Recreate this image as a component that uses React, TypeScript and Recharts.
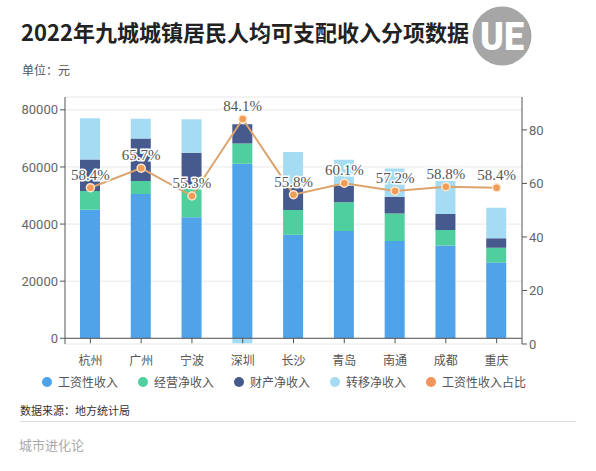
import {
  ComposedChart,
  Bar,
  Line,
  XAxis,
  YAxis,
  CartesianGrid,
  ReferenceLine,
  LabelList,
} from "recharts";

// 城市与各项收入（元）
const cities = ["杭州", "广州", "宁波", "深圳", "长沙", "青岛", "南通", "成都", "重庆"];
const wageIncome = [45000, 50500, 42400, 61150, 36300, 37600, 34100, 32500, 26500];
const businessIncome = [6600, 4550, 10100, 7100, 8600, 10000, 9600, 5400, 5200];
const propertyIncome = [11050, 14950, 12450, 6750, 8200, 5700, 5850, 5600, 3300];
const transferIncome = [14400, 6850, 11740, -1750, 12100, 9200, 9950, 11550, 10700];
// 工资性收入占比（%）
const wageShare = [58.4, 65.7, 55.3, 84.1, 55.8, 60.1, 57.2, 58.8, 58.4];

const leftTicks = [0, 20000, 40000, 60000, 80000];
const rightTicks = [0, 20, 40, 60, 80];

const LEFT_DOMAIN: [number, number] = [-2000, 84500];
const RIGHT_DOMAIN: [number, number] = [0, 92.3];

const series = [
  { key: "wage", name: "工资性收入", color: "#4ea3e9" },
  { key: "business", name: "经营净收入", color: "#50cf9e" },
  { key: "property", name: "财产净收入", color: "#465a8d" },
  { key: "transfer", name: "转移净收入", color: "#a6dcf3" },
  { key: "share", name: "工资性收入占比", color: "#f3955a" },
];

const data = cities.map((city, i) => ({
  city,
  wage: wageIncome[i],
  business: businessIncome[i],
  property: propertyIncome[i],
  transfer: transferIncome[i],
  share: wageShare[i],
}));

const CJK = '"Noto Sans CJK SC", "Noto Sans", sans-serif';

// 图表区域
const CHART_H = 380;
const MARGIN = { top: 97, right: 34, left: 0, bottom: 6 };
const X_AXIS_H = 30;
const PLOT_H = CHART_H - MARGIN.top - MARGIN.bottom - X_AXIS_H;
// 0 刻度线相对底部的偏移（左轴最小值为负）
const ZERO_OFFSET = ((0 - LEFT_DOMAIN[0]) / (LEFT_DOMAIN[1] - LEFT_DOMAIN[0])) * PLOT_H;

const CityTick = (props: any) => {
  const { x, y, payload } = props;
  return (
    <g>
      <line x1={x} x2={x} y1={y - ZERO_OFFSET} y2={y - ZERO_OFFSET + 5} stroke="#555" />
      <text x={x} y={y} dy={21} textAnchor="middle" fill="#555" fontSize={12} fontFamily={CJK}>
        {payload.value}
      </text>
    </g>
  );
};

export default function App() {
  return (
    <div
      style={{
        position: "relative",
        width: 596,
        height: 471,
        background: "#fff",
        fontFamily: CJK,
        overflow: "hidden",
      }}
    >
      <style>{`body{margin:0}`}</style>

      <div
        style={{
          position: "absolute",
          left: 21,
          top: 17,
          fontSize: 22,
          lineHeight: "28px",
          fontWeight: 700,
          color: "#222",
          whiteSpace: "nowrap",
        }}
      >
        2022年九城城镇居民人均可支配收入分项数据
      </div>

      <svg style={{ position: "absolute", left: 472, top: 6 }} width={60} height={62}>
        <circle cx={30} cy={30} r={29.5} fill="#a6a6a6" />
        <text
          x={30}
          y={44}
          textAnchor="middle"
          fill="#fff"
          fontSize={38}
          fontWeight={900}
          fontFamily="Roboto"
          textLength={44}
          lengthAdjust="spacingAndGlyphs"
        >
          UE
        </text>
      </svg>

      <div style={{ position: "absolute", left: 22, top: 62, fontSize: 12, lineHeight: "16px", color: "#555" }}>
        单位：元
      </div>

      <div style={{ position: "absolute", left: 0, top: 0 }}>
        <ComposedChart width={596} height={CHART_H} data={data} margin={MARGIN} stackOffset="sign">
          <CartesianGrid yAxisId="left" vertical={false} stroke="#e8e8e8" />
          <XAxis
            dataKey="city"
            height={X_AXIS_H}
            axisLine={false}
            tickLine={false}
            tickSize={0}
            tickMargin={0}
            interval={0}
            tick={<CityTick />}
          />
          <YAxis
            yAxisId="left"
            orientation="left"
            width={65}
            domain={LEFT_DOMAIN}
            ticks={leftTicks}
            allowDataOverflow
            axisLine={{ stroke: "#555" }}
            tickLine={{ stroke: "#555" }}
            tickSize={5}
            tick={{ fill: "#666", fontSize: 13, fontFamily: "Roboto" }}
          />
          <YAxis
            yAxisId="right"
            orientation="right"
            width={40}
            domain={RIGHT_DOMAIN}
            ticks={rightTicks}
            allowDataOverflow
            axisLine={{ stroke: "#555" }}
            tickLine={{ stroke: "#555" }}
            tickSize={5}
            tick={{ fill: "#666", fontSize: 13, fontFamily: "Roboto" }}
          />
          {series.slice(0, 4).map((s) => (
            <Bar
              key={s.key}
              dataKey={s.key}
              name={s.name}
              yAxisId="left"
              stackId="income"
              fill={s.color}
              barSize={20}
              isAnimationActive={false}
            />
          ))}
          <ReferenceLine y={0} yAxisId="left" stroke="#555" />
          <Line
            dataKey="share"
            name="工资性收入占比"
            yAxisId="right"
            stroke="#dca46c"
            strokeWidth={2}
            dot={{ r: 4, fill: "#ef9d57", stroke: "#fde6cc", strokeWidth: 1.5 }}
            isAnimationActive={false}
          >
            <LabelList
              dataKey="share"
              position="top"
              offset={8}
              formatter={(v: any) => `${v}%`}
              fill="#555"
              fontSize={15}
              fontFamily='"Liberation Serif", serif'
              stroke="#fff"
              strokeWidth={3}
              paintOrder="stroke"
            />
          </Line>
        </ComposedChart>
      </div>

      <div
        style={{
          position: "absolute",
          left: 42,
          top: 374,
          display: "flex",
          gap: 20,
          fontSize: 12,
          lineHeight: "16px",
          color: "#555",
          whiteSpace: "nowrap",
        }}
      >
        {series.map((s) => (
          <div key={s.key} style={{ display: "flex", alignItems: "center" }}>
            <span
              style={{
                display: "inline-block",
                width: 10,
                height: 10,
                borderRadius: 5,
                background: s.color,
                marginRight: 6,
              }}
            />
            {s.name}
          </div>
        ))}
      </div>

      <div style={{ position: "absolute", left: 20, top: 403, fontSize: 11, lineHeight: "14px", color: "#333" }}>
        数据来源：地方统计局
      </div>
      <div style={{ position: "absolute", left: 20, top: 421, width: 556, height: 1, background: "#ddd" }} />
      <div style={{ position: "absolute", left: 19, top: 436, fontSize: 13, lineHeight: "18px", color: "#aaa" }}>
        城市进化论
      </div>
    </div>
  );
}
